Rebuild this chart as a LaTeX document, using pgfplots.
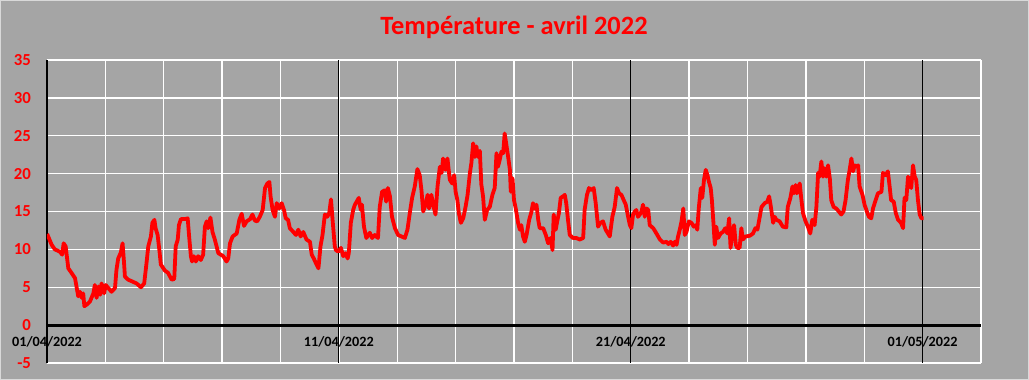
\documentclass[border=0pt]{standalone}
\usepackage{fontspec}
\setmainfont{Carlito}
\usepackage{pgfplots}
\pgfplotsset{compat=1.18}
\definecolor{bggray}{RGB}{165,165,165}
\definecolor{bordergray}{RGB}{217,217,217}
\begin{document}
\begin{tikzpicture}
\useasboundingbox (-23.5pt,-8.5pt) rectangle (491pt,181.5pt);
\fill[bggray] (-23.5pt,-8.5pt) rectangle (491pt,181.5pt);
\draw[bordergray, line width=0.6pt] (-23.2pt,-8.2pt) rectangle (490.7pt,181.2pt);
\node[font=\bfseries\fontsize{13.2}{15}\selectfont, text=red] at (233.5pt,168pt) {Température - avril 2022};
\begin{axis}[
  at={(0,0)}, anchor=south west,
  scale only axis, width=467pt, height=151.5pt,
  xmin=0, xmax=32, ymin=-5, ymax=35,
  axis line style={draw=none},
  major tick length=0pt,
  xtick={0,2,...,32}, xticklabels={},
  ytick={-5,5,10,15,20,25,30,35},
  extra y ticks={0},
  extra y tick style={major grid style={black, line width=1.6pt}},
  extra x ticks={0,10,20,30},
  extra x tick labels={01/04/2022,11/04/2022,21/04/2022,01/05/2022},
  extra x tick style={major grid style={black, line width=0.6pt},
     xticklabel style={anchor=center, yshift=10.5pt}},
  grid=major,
  major grid style={white, line width=0.65pt},
  /pgf/number format/assume math mode=true,
  yticklabel style={font=\bfseries\fontsize{8.4}{10}\selectfont, text=red, xshift=-4.5pt},
  xticklabel style={font=\bfseries\fontsize{7.1}{8}\selectfont, text=black},
]
\addplot[red, line width=1.9pt, line join=round] table {
x y
0.00 12.0
0.02 11.9
0.16 10.6
0.27 10.0
0.44 9.7
0.52 9.3
0.57 10.8
0.64 10.4
0.68 9.1
0.73 7.5
0.84 6.9
0.96 6.2
1.02 4.9
1.07 3.8
1.13 4.4
1.19 3.6
1.24 4.2
1.28 2.5
1.36 2.7
1.47 3.1
1.59 4.2
1.64 5.3
1.70 3.6
1.76 5.1
1.82 4.0
1.87 5.5
1.96 4.2
2.01 5.3
2.10 4.9
2.21 4.4
2.33 4.9
2.38 7.3
2.44 8.8
2.53 9.6
2.59 10.8
2.64 8.2
2.67 6.4
2.78 6.0
2.90 5.8
3.07 5.5
3.22 5.0
3.33 5.5
3.41 8.2
3.47 10.4
3.56 11.7
3.61 13.5
3.68 13.9
3.72 12.8
3.79 11.9
3.85 9.9
3.90 8.0
4.04 7.2
4.15 6.9
4.27 6.0
4.36 6.1
4.41 10.4
4.48 11.3
4.52 13.2
4.59 14.0
4.73 14.0
4.82 14.1
4.87 11.7
4.93 9.1
4.97 8.4
5.03 9.1
5.10 8.4
5.18 9.1
5.27 8.6
5.35 9.3
5.41 13.0
5.47 13.7
5.52 12.8
5.60 14.2
5.67 12.3
5.75 11.3
5.87 9.5
6.04 9.1
6.15 8.4
6.21 8.8
6.27 10.8
6.36 11.7
6.50 12.1
6.59 13.9
6.67 14.7
6.75 13.1
6.84 13.7
6.96 14.0
7.04 14.6
7.12 13.8
7.20 13.7
7.29 14.3
7.39 15.2
7.47 18.1
7.55 18.7
7.62 18.9
7.66 17.0
7.73 15.2
7.81 14.3
7.87 16.1
7.96 15.4
8.04 16.1
8.12 15.2
8.18 14.1
8.26 13.9
8.32 12.8
8.44 12.3
8.53 11.9
8.61 12.6
8.69 11.7
8.78 12.3
8.89 11.3
9.01 11.0
9.07 9.3
9.14 8.8
9.21 8.2
9.30 7.5
9.37 10.4
9.44 11.9
9.52 14.6
9.60 14.3
9.67 14.8
9.73 16.6
9.78 14.1
9.86 10.4
9.90 9.9
9.98 9.7
10.07 10.2
10.15 9.1
10.23 9.5
10.30 8.8
10.34 9.5
10.41 13.5
10.49 15.2
10.55 15.9
10.64 16.5
10.68 16.8
10.75 15.2
10.79 15.9
10.86 13.0
10.94 11.5
11.06 12.2
11.14 11.5
11.23 11.9
11.34 11.5
11.40 15.6
11.48 17.6
11.57 17.8
11.62 16.3
11.68 18.1
11.75 17.0
11.82 14.3
11.92 12.8
12.03 11.9
12.15 11.7
12.26 11.5
12.35 12.6
12.43 14.8
12.51 16.8
12.60 18.3
12.69 20.6
12.77 19.8
12.83 17.8
12.89 15.0
12.97 15.9
13.04 17.2
13.09 15.4
13.17 17.2
13.23 15.9
13.31 14.6
13.38 18.3
13.46 20.9
13.52 20.1
13.57 22.0
13.65 20.5
13.72 22.0
13.80 19.2
13.88 18.7
13.95 19.8
14.00 17.6
14.06 16.5
14.11 14.8
14.18 13.5
14.26 14.1
14.34 15.6
14.41 17.2
14.49 20.1
14.54 21.4
14.60 24.0
14.66 22.2
14.71 23.6
14.77 22.2
14.83 23.0
14.88 18.6
14.94 17.0
15.00 13.9
15.08 15.2
15.17 15.6
15.26 17.2
15.34 18.1
15.40 22.7
15.45 20.9
15.51 21.8
15.57 22.9
15.63 22.7
15.68 25.3
15.74 23.8
15.80 22.2
15.86 20.5
15.89 17.6
15.95 19.4
16.00 16.5
16.06 15.4
16.14 13.5
16.20 12.6
16.25 13.2
16.31 11.7
16.37 11.0
16.43 11.9
16.52 13.9
16.60 15.0
16.65 16.1
16.71 15.4
16.77 15.9
16.83 13.9
16.88 12.8
17.00 12.8
17.09 11.9
17.17 10.8
17.25 11.5
17.32 9.9
17.36 14.6
17.43 12.6
17.49 13.9
17.54 14.8
17.60 16.8
17.68 17.0
17.74 17.2
17.79 16.1
17.85 13.9
17.91 11.9
18.02 11.5
18.14 11.5
18.25 11.3
18.37 11.5
18.42 15.2
18.50 17.2
18.57 18.1
18.65 17.8
18.73 18.1
18.80 16.1
18.88 13.0
18.96 13.5
19.05 13.7
19.14 12.6
19.22 12.1
19.28 11.7
19.37 14.3
19.45 15.6
19.53 18.1
19.60 17.4
19.68 17.2
19.76 16.5
19.83 15.9
19.91 14.3
19.97 13.2
20.02 12.8
20.08 14.6
20.14 15.0
20.19 15.2
20.25 14.3
20.31 14.6
20.37 15.0
20.42 15.9
20.48 14.3
20.54 15.4
20.60 15.2
20.65 13.2
20.77 12.8
20.88 12.1
21.00 11.3
21.11 10.9
21.23 11.0
21.29 10.7
21.37 11.0
21.45 10.5
21.51 11.0
21.57 10.6
21.62 11.7
21.68 12.6
21.74 13.7
21.80 15.4
21.85 11.9
21.91 12.3
21.99 13.7
22.08 13.5
22.16 13.0
22.23 13.2
22.28 12.6
22.33 15.4
22.40 18.1
22.45 16.8
22.51 19.2
22.57 20.5
22.63 19.8
22.68 18.9
22.74 18.1
22.78 16.5
22.83 13.7
22.88 10.6
22.93 13.0
22.99 11.5
23.08 12.1
23.16 12.3
23.24 12.8
23.31 12.1
23.37 14.1
23.42 10.2
23.48 12.3
23.54 13.2
23.60 10.6
23.65 10.2
23.73 10.2
23.79 12.8
23.84 11.3
23.93 11.7
24.08 11.8
24.19 12.1
24.27 12.8
24.34 12.6
24.42 14.3
24.48 15.6
24.59 16.1
24.68 16.3
24.74 17.0
24.79 15.9
24.88 13.5
24.93 14.3
24.99 13.9
25.10 13.7
25.21 13.0
25.33 12.9
25.38 15.6
25.47 16.8
25.54 18.3
25.59 17.4
25.65 18.5
25.69 17.4
25.79 18.7
25.84 16.8
25.90 14.8
25.99 13.7
26.07 13.0
26.15 12.1
26.22 13.9
26.30 13.2
26.36 15.6
26.42 20.1
26.47 19.6
26.53 21.6
26.59 19.6
26.64 20.7
26.70 19.6
26.76 21.1
26.82 19.4
26.87 16.5
26.95 15.6
27.04 15.4
27.13 15.0
27.21 14.6
27.29 15.0
27.36 16.5
27.44 19.2
27.50 20.5
27.56 22.0
27.62 20.3
27.67 21.1
27.73 20.9
27.79 21.1
27.84 18.3
27.94 17.2
28.01 15.9
28.09 15.0
28.16 14.3
28.24 14.1
28.30 15.4
28.39 16.5
28.47 17.4
28.59 17.6
28.64 20.1
28.73 19.8
28.81 20.3
28.87 18.3
28.92 16.5
29.01 16.3
29.08 14.8
29.16 13.9
29.26 13.5
29.33 12.8
29.38 16.8
29.44 16.5
29.50 19.6
29.55 18.7
29.61 18.1
29.67 21.1
29.73 19.6
29.78 19.2
29.84 16.5
29.90 14.6
29.96 14.1
30.03 14.1
};
\end{axis}
\end{tikzpicture}
\end{document}
